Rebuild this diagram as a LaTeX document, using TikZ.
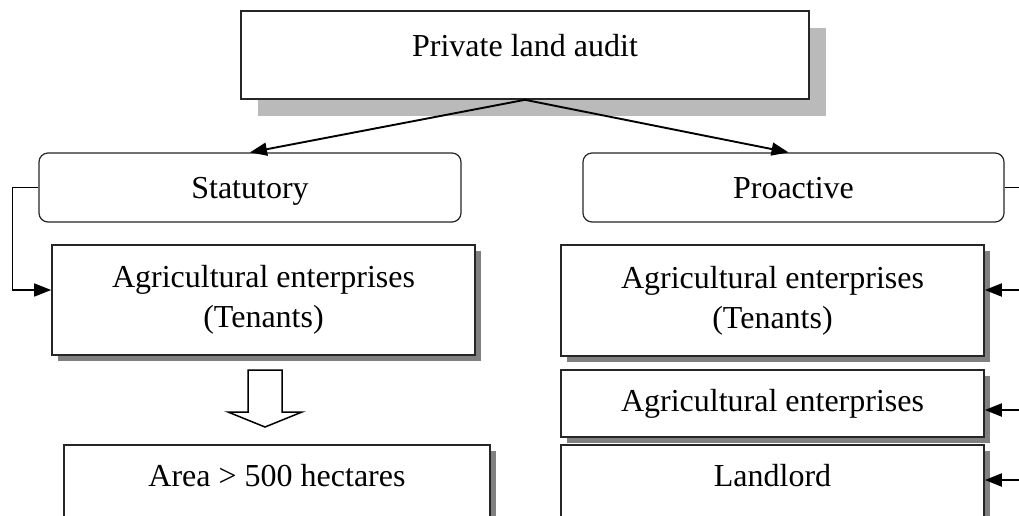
\documentclass[tikz,border=0pt]{standalone}
\usepackage{fontspec}
\setmainfont{Liberation Serif}
\usetikzlibrary{arrows.meta,shadows}

\tikzset{
  box/.style={draw=black!85, line width=1.6pt, fill=white, align=center,
    inner sep=0pt, font=\fontsize{32}{40}\selectfont},
  shadowbox/.style={box, drop shadow={shadow xshift=6pt, shadow yshift=-6pt,
    fill=black!50, opacity=1}},
  topbox/.style={box, drop shadow={shadow xshift=17pt, shadow yshift=-17pt,
    fill=black!27, opacity=1}},
  roundbox/.style={box, line width=1.2pt, rounded corners=9pt,
    text height=21pt, text depth=0pt},
  link/.style={draw=black, line width=1.9pt, -{Triangle[length=17pt,width=13pt]}},
}

\begin{document}
\begin{tikzpicture}[x=1pt,y=-1pt]
    \useasboundingbox (0,0) rectangle (1019,515);
    \clip (0,0) rectangle (1019,515);
    % boxes
    \node[topbox, minimum width=568pt, minimum height=88pt, text depth=20pt] (audit) at (525,55) {Private land audit};
    \node[roundbox, minimum width=422pt, minimum height=69pt] (stat) at (250,187.5) {Statutory};
    \node[roundbox, minimum width=421pt, minimum height=69pt] (pro) at (793.5,187.5) {Proactive};
    \node[shadowbox, minimum width=423pt, minimum height=110pt] (agriL) at (263.5,300) {Agricultural enterprises\\(Tenants)};
    \node[shadowbox, minimum width=426pt, minimum height=90pt, text depth=30pt] (area) at (277,490) {Area > 500 hectares};
    \node[shadowbox, minimum width=423pt, minimum height=111pt] (agriR) at (772.5,300.5) {Agricultural enterprises\\(Tenants)};
    \node[shadowbox, minimum width=423pt, minimum height=67pt] (agriRb) at (772.5,403.5) {Agricultural enterprises};
    \node[shadowbox, minimum width=423pt, minimum height=90pt, text depth=30pt] (land) at (772.5,490) {Landlord};
    % block arrow
    \draw[line width=1.5pt, fill=white] (248,370) -- (248,412) -- (228,412) -- (265,427)
      -- (302,412) -- (282,412) -- (282,370) -- cycle;
    % connectors
    \path (audit.south) edge[link] (stat.north);
    \path (audit.south) edge[link] ([xshift=-5pt]pro.north);
    \draw[link, line width=1.5pt] (stat.west) -- ++(-26,0) |- ([yshift=10pt]agriL.west);
    \coordinate (rail) at (1040,187.5);
    \coordinate (railA) at (1040,290);
    \coordinate (railB) at (1040,410);
    \coordinate (railC) at (1040,480);
    \draw[line width=1.3pt] (pro.east) -- (rail) -- (railC);
    \draw[link] (railA) -- (railA -| agriR.east);
    \draw[link] (railB) -- (railB -| agriRb.east);
    \draw[link] (railC) -- (railC -| land.east);
\end{tikzpicture}
\end{document}
